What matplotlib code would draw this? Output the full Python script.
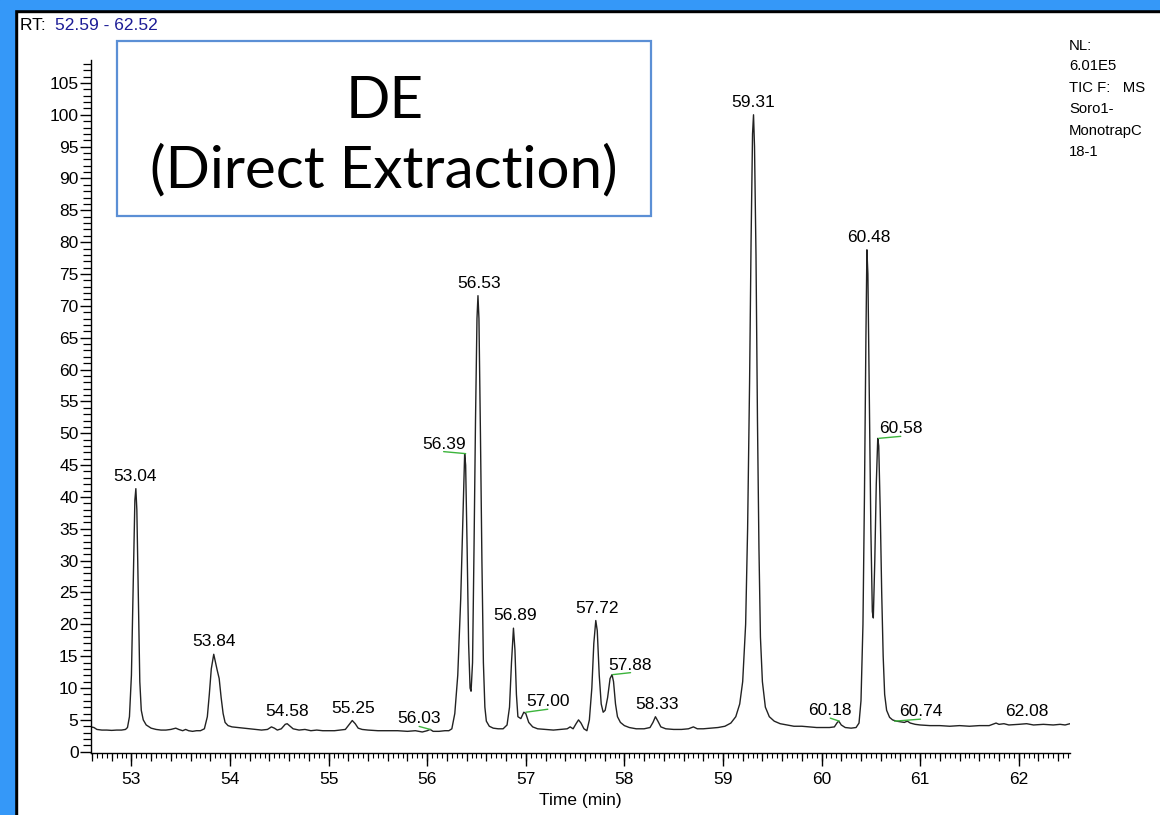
import matplotlib
matplotlib.use('Agg')
import matplotlib.pyplot as plt
from matplotlib.patches import Rectangle
from matplotlib.ticker import MultipleLocator, NullFormatter

plt.rcParams['font.family'] = ['Liberation Sans', 'DejaVu Sans']

# Cromatograma (TIC): tempo (min) e abundancia relativa (%)
tempo = [
    52.59, 52.62, 52.65, 52.70, 52.75, 52.80, 52.85, 52.90, 52.94,
    52.96, 52.98, 53.00, 53.02, 53.035, 53.045, 53.055, 53.07, 53.085, 53.10,
    53.12, 53.15, 53.20, 53.25, 53.30, 53.35, 53.40, 53.45, 53.48, 53.52,
    53.55, 53.58, 53.62, 53.66, 53.70, 53.74,
    53.77, 53.79, 53.81, 53.835, 53.85, 53.87, 53.89, 53.91, 53.93, 53.95,
    53.98, 54.02, 54.08, 54.14, 54.20, 54.26, 54.32, 54.38, 54.42, 54.45,
    54.48, 54.52, 54.56, 54.58, 54.61, 54.64, 54.70, 54.76, 54.82, 54.88,
    54.94, 55.00, 55.06, 55.12, 55.17, 55.21, 55.24, 55.27, 55.30, 55.34,
    55.40, 55.50, 55.60, 55.70, 55.80, 55.88, 55.95, 56.00, 56.03, 56.06,
    56.12, 56.18, 56.22,
    56.25, 56.28, 56.31, 56.34, 56.365, 56.38, 56.39, 56.405, 56.42, 56.435,
    56.445, 56.46, 56.475, 56.49, 56.505, 56.515, 56.525, 56.54, 56.555, 56.57,
    56.585, 56.60, 56.63, 56.67, 56.72, 56.77,
    56.81, 56.835, 56.855, 56.875, 56.89, 56.905, 56.92, 56.95, 56.98, 57.00,
    57.03, 57.07, 57.12, 57.20, 57.28, 57.35, 57.42, 57.45, 57.48, 57.51,
    57.535, 57.56, 57.59, 57.62,
    57.645, 57.67, 57.69, 57.71, 57.725, 57.745, 57.765, 57.785, 57.805, 57.83,
    57.855, 57.875, 57.89, 57.91, 57.93, 57.96, 58.00, 58.05, 58.12, 58.20,
    58.26, 58.29, 58.315, 58.34, 58.37, 58.42, 58.50, 58.58, 58.65, 58.70,
    58.74, 58.80, 58.88, 58.95, 59.02,
    59.08, 59.13, 59.17, 59.20, 59.23, 59.25, 59.27, 59.285, 59.30, 59.31,
    59.32, 59.335, 59.35, 59.365, 59.38, 59.40, 59.43, 59.47, 59.52, 59.58,
    59.65, 59.72, 59.80, 59.88, 59.95, 60.02, 60.08, 60.13, 60.16, 60.175,
    60.20, 60.24, 60.30, 60.35,
    60.38, 60.40, 60.42, 60.435, 60.45, 60.46, 60.47, 60.485, 60.50, 60.515,
    60.525, 60.54, 60.555, 60.57, 60.58, 60.595, 60.61, 60.625, 60.64, 60.66,
    60.69, 60.72, 60.76, 60.80, 60.84, 60.87, 60.90, 60.95, 61.00, 61.10,
    61.20, 61.30, 61.40, 61.50, 61.60, 61.70, 61.77, 61.80, 61.85, 61.90,
    62.00, 62.08, 62.15, 62.25, 62.35, 62.42, 62.47, 62.52,
]
intensidade = [
    3.9, 3.8, 3.5, 3.4, 3.4, 3.35, 3.4, 3.4, 3.5,
    3.8, 5.5, 12, 28, 39.5, 41.3, 38, 24, 11, 6.5,
    5.0, 4.2, 3.7, 3.5, 3.4, 3.4, 3.5, 3.7, 3.5, 3.3,
    3.5, 3.3, 3.2, 3.3, 3.3, 3.6,
    5.5, 9, 13, 15.3, 14.2, 12.8, 11.5, 8.5, 6, 4.6,
    4.1, 3.9, 3.8, 3.7, 3.6, 3.5, 3.4, 3.5, 3.9, 3.7,
    3.4, 3.6, 4.3, 4.4, 4.0, 3.6, 3.4, 3.5, 3.3, 3.4,
    3.3, 3.3, 3.3, 3.4, 3.5, 4.3, 4.9, 4.4, 3.7, 3.5,
    3.4, 3.3, 3.3, 3.3, 3.2, 3.3, 3.1, 3.3, 3.5, 3.2,
    3.2, 3.3, 3.3,
    3.6, 6, 12, 24, 38, 46.8, 45, 32, 17, 10,
    9.5, 14, 32, 52, 68, 71.6, 68, 50, 30, 14,
    7, 4.8, 4.0, 3.7, 3.6, 3.6,
    4.2, 7, 14, 19.4, 16, 9, 5.5, 5.2, 6.2, 6.0,
    4.6, 3.9, 3.6, 3.5, 3.4, 3.5, 3.6, 3.9, 3.6, 4.4,
    5.0, 4.5, 3.6, 3.3,
    5, 10, 17, 20.6, 19, 12, 7.5, 6.2, 6.5, 8.5,
    11.5, 12.1, 11, 7.5, 5.5, 4.6, 4.1, 3.8, 3.6, 3.6,
    3.8, 4.6, 5.5, 4.8, 3.9, 3.6, 3.5, 3.5, 3.6, 3.9,
    3.6, 3.6, 3.7, 3.8, 4.0,
    4.5, 5.5, 7.5, 11, 20, 35, 58, 80, 97, 100,
    95, 78, 52, 32, 18, 11, 7, 5.5, 4.8, 4.4,
    4.2, 4.0, 4.0, 3.9, 3.8, 3.8, 3.8, 3.9, 4.6, 4.8,
    4.2, 3.8, 3.7, 3.8,
    4.5, 8, 20, 40, 65, 78.8, 75, 55, 35, 22,
    21, 30, 42, 49.2, 48, 38, 25, 15, 9, 6.5,
    5.4, 5.0, 4.8, 4.7, 4.6, 4.8, 4.5, 4.3, 4.2, 4.1,
    4.1, 4.0, 4.1, 4.0, 4.1, 4.1, 4.5, 4.3, 4.4, 4.2,
    4.3, 4.4, 4.2, 4.3, 4.2, 4.3, 4.2, 4.4,
]

# Picos rotulados: tempo de retencao e altura do apice
picos_rt = [53.04, 53.84, 54.58, 55.25, 56.03, 56.39, 56.53, 56.89, 57.00,
            57.72, 57.88, 58.33, 59.31, 60.18, 60.48, 60.58, 60.74, 62.08]
picos_altura = [41.3, 15.3, 4.4, 4.9, 3.5, 46.8, 71.6, 19.4, 6.2,
                20.6, 12.1, 5.5, 100, 4.8, 78.8, 49.2, 4.8, 4.4]
picos_rotulo = ['53.04', '53.84', '54.58', '55.25', '56.03', '56.39', '56.53',
                '56.89', '57.00', '57.72', '57.88', '58.33', '59.31', '60.18',
                '60.48', '60.58', '60.74', '62.08']

# rotulos com linha verde (deslocamento em pixels a partir do apice)
deslocamento_linha = {
    '56.03': (-11, 3),
    '56.39': (-22, 2),
    '57.00': (22, 3),
    '57.88': (18, 2),
    '60.18': (-9, 3),
    '60.58': (22, 2),
    '60.74': (26, 2),
}

info_direita = ['NL:', '6.01E5', 'TIC F:   MS', 'Soro1-', 'MonotrapC', '18-1']

W, H = 1160, 815
fig = plt.figure(figsize=(W / 100, H / 100), dpi=100)
fig.patch.set_facecolor('white')

# moldura azul (topo e lateral esquerda) com linha preta
fig.add_artist(Rectangle((0, 1 - 12 / H), 1, 12 / H, transform=fig.transFigure,
                         color='black', zorder=0))
fig.add_artist(Rectangle((0, 1 - 9 / H), 1, 9 / H, transform=fig.transFigure,
                         color='#3598F8', zorder=1))
fig.add_artist(Rectangle((0, 0), 17 / W, 1, transform=fig.transFigure,
                         color='black', zorder=0))
fig.add_artist(Rectangle((0, 0), 14 / W, 1, transform=fig.transFigure,
                         color='#3598F8', zorder=1))

ax = fig.add_axes([91 / W, (H - 753) / H, (1070 - 91) / W, (753 - 60) / H])
ax.plot(tempo, intensidade, color='#222222', lw=1.0)

ax.set_xlim(52.59, 62.52)
ax.set_ylim(-0.2, 108.6)
for s in ['top', 'right']:
    ax.spines[s].set_visible(False)
ax.spines['left'].set_linewidth(1.0)
ax.spines['bottom'].set_linewidth(1.0)

ax.xaxis.set_major_locator(MultipleLocator(1))
ax.xaxis.set_minor_locator(MultipleLocator(0.05))
ax.yaxis.set_major_locator(MultipleLocator(5))
ax.yaxis.set_minor_locator(MultipleLocator(1))
ax.tick_params(axis='x', which='major', length=9, width=1, pad=5, labelsize=12.5)
ax.tick_params(axis='x', which='minor', length=3.5, width=0.8)
ax.tick_params(axis='y', which='major', length=8, width=1, pad=1, labelsize=12.5)
ax.tick_params(axis='y', which='minor', length=6, width=0.9)

# marcas intermediarias a cada 0.2 min
sec = ax.secondary_xaxis('bottom')
sec.xaxis.set_major_locator(MultipleLocator(0.2))
sec.xaxis.set_major_formatter(NullFormatter())
sec.tick_params(axis='x', which='major', length=6, width=0.9)
sec.tick_params(axis='x', which='minor', length=0)
sec.spines['bottom'].set_visible(False)

ax.set_xlabel('Time (min)', fontsize=12.5, labelpad=4)

for rt, alt, rot in zip(picos_rt, picos_altura, picos_rotulo):
    if rot in deslocamento_linha:
        dx, dy = deslocamento_linha[rot]
        ax.annotate(rot, xy=(rt, alt), xytext=(dx, dy), textcoords='offset pixels',
                    ha='center', va='bottom', fontsize=12.5,
                    arrowprops=dict(arrowstyle='-', color='#3CB43C', lw=1.0,
                                    patchA=None, shrinkA=0, shrinkB=0,
                                    relpos=(0.5, 0.0)))
    else:
        ax.annotate(rot, xy=(rt, alt), xytext=(0, 5), textcoords='offset pixels',
                    ha='center', va='bottom', fontsize=12.5)

# cabecalho RT
fig.text(20 / W, 1 - 25 / H, 'RT: ', fontsize=12.5, va='center', ha='left')
fig.text(55 / W, 1 - 25 / H, '52.59 - 62.52', fontsize=12.5, va='center',
         ha='left', color='#1C1C96')

# bloco de informacoes a direita
ys = [46, 66, 88, 109, 131, 152]
for y, t in zip(ys, info_direita):
    fig.text(1069 / W, 1 - y / H, t, fontsize=10.7, va='center', ha='left')

# caixa com titulo
fig.add_artist(Rectangle((117 / W, 1 - 216 / H), (651 - 117) / W, (216 - 41) / H,
                         transform=fig.transFigure, fill=False,
                         edgecolor='#5B8FD5', lw=1.6, zorder=3))
fig.text(385 / W, 1 - 101 / H, 'DE', fontsize=42, family='Lato',
         ha='center', va='center')
fig.text(384 / W, 1 - 171 / H, '(Direct Extraction)', fontsize=42, family='Lato',
         ha='center', va='center')

fig.savefig('out.png', dpi=100)
